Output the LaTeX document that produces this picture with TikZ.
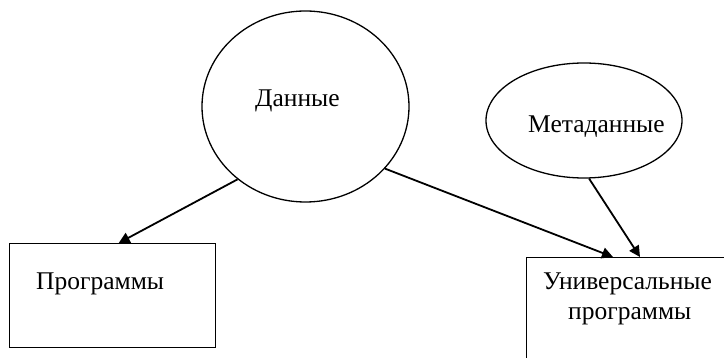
\documentclass[tikz,border=0pt]{standalone}
\usepackage{fontspec}
\setmainfont{Liberation Serif}
\usetikzlibrary{arrows.meta,shapes.geometric}
\tikzset{
  oval/.style={draw=black, line width=1.3pt, ellipse, inner sep=0pt},
  boxnode/.style={draw=black, line width=1.4pt, rectangle, inner sep=0pt, anchor=north west},
  txt/.style={inner sep=0pt, anchor=base west, font=\fontsize{25.5}{31}\selectfont},
  arr/.style={line width=1.8pt, -{Triangle[length=11pt,width=11pt]}}
}
\begin{document}
\begin{tikzpicture}[x=1pt,y=-1pt]
\useasboundingbox (0,0) rectangle (724,358);
\clip (0,0) rectangle (724,358);
\fill[white] (0,0) rectangle (724,358);
% ellipses
\node[oval, minimum width=207pt, minimum height=191pt] (d) at (305.5,106.5) {};
\node[oval, minimum width=196pt, minimum height=115pt] (m) at (584,120.5) {};
% boxes
\node[boxnode, minimum width=206pt, minimum height=104pt] (p) at (9,243) {};
\node[boxnode, minimum width=240pt, minimum height=140pt] (u) at (526,257) {};
% texts
\node[txt] (dt) at (255,107) {Данные};
\node[txt] (mt) at (528,133) {Метаданные};
\node[txt] (pt) at (36,289.5) {Программы};
\node[txt] (ut1) at (543,289.5) {Универсальные};
\node[txt] (ut2) at (568,320) {программы};
% connectors
\draw[arr] (d.227.9) -- ([xshift=6pt]p.north);
\draw[arr] (d.322.8) -- ([xshift=87pt]u.north west);
\draw[arr] (m.275.8) -- ([xshift=114pt]u.north west);
\end{tikzpicture}
\end{document}
